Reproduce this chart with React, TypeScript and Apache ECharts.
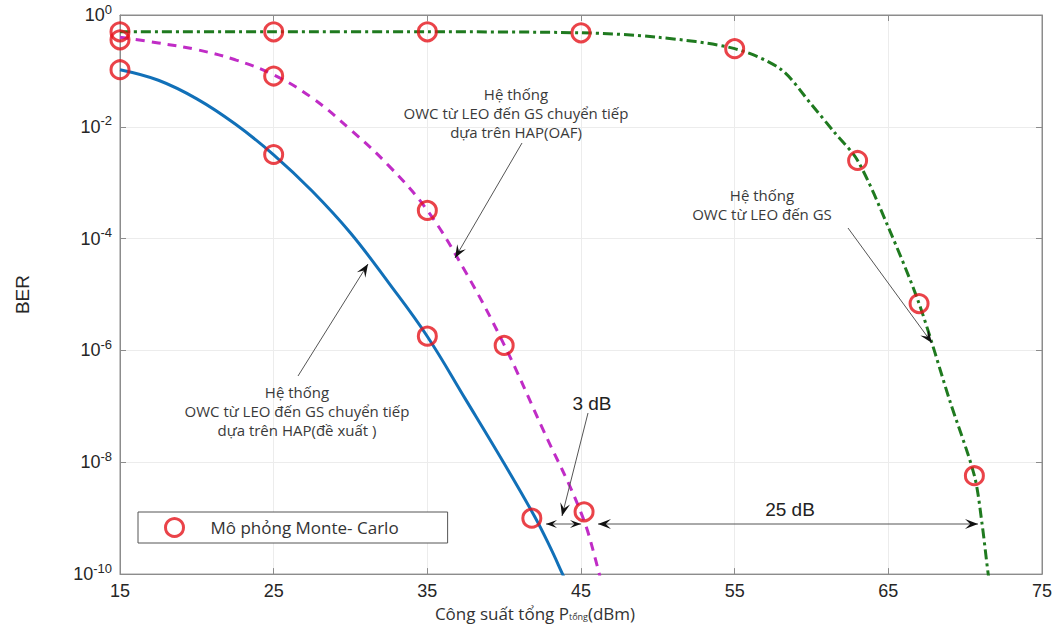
import React, { useEffect, useRef } from "react";
import * as echarts from "echarts";

// ---- Data ----
const powerProposed = [15, 17.5, 20, 22.5, 25, 27.5, 30, 32.5, 35, 37.5, 40, 42, 43, 43.8, 44.3];
const berProposed = [1.05e-1, 6.8e-2, 3.16e-2, 1.12e-2, 3.16e-3, 7.1e-4, 1.26e-4, 1.6e-5, 1.78e-6, 1.32e-7, 9.5e-9, 1.05e-9, 3e-10, 1e-10, 5e-11];

const powerOAF = [15, 17.5, 20, 22.5, 25, 27.5, 30, 32.5, 35, 37.5, 40, 42.5, 45, 46.1, 46.5];
const berOAF = [0.4, 0.316, 0.24, 0.158, 0.085, 0.033, 8.9e-3, 2e-3, 3.2e-4, 2.5e-5, 1.26e-6, 4e-8, 1.26e-9, 1.26e-10, 4e-11];

const powerDirect = [15, 25, 35, 45, 50, 55, 58, 60, 61.5, 63, 65, 67, 69, 70.6, 71.1, 71.5, 71.8];
const berDirect = [0.5, 0.5, 0.5, 0.48, 0.4, 0.25, 0.107, 0.025, 7.9e-3, 2.5e-3, 1.6e-4, 6.9e-6, 1.26e-7, 5.75e-9, 7.9e-10, 1e-10, 3e-11];

const powerSim = [15, 15, 15, 25, 25, 25, 35, 35, 35, 40, 41.8, 45, 45.2, 55, 63, 67, 70.6];
const berSim = [0.5, 0.36, 0.105, 0.5, 0.081, 3.2e-3, 0.5, 3.2e-4, 1.8e-6, 1.23e-6, 1e-9, 0.48, 1.3e-9, 0.25, 2.5e-3, 6.9e-6, 5.75e-9];

const xTickMin = 15;
const xTickMax = 75;
const xTickStep = 10;

const nameProposed = "Hệ thống OWC từ LEO đến GS chuyển tiếp dựa trên HAP(đề xuất )";
const nameOAF = "Hệ thống OWC từ LEO đến GS chuyển tiếp dựa trên HAP(OAF)";
const nameDirect = "Hệ thống OWC từ LEO đến GS";
const nameSim = "Mô phỏng Monte- Carlo";

const noteOAF = ["Hệ thống", "OWC từ LEO đến GS chuyển tiếp", "dựa trên HAP(OAF)"];
const noteDirect = ["Hệ thống", "OWC từ LEO đến GS"];
const noteProposed = ["Hệ thống", "OWC từ LEO đến GS chuyển tiếp", "dựa trên HAP(đề xuất )"];

const zip = (xs: number[], ys: number[]) => xs.map((x, i) => [x, ys[i]]);

function arrowHead(x1: number, y1: number, x2: number, y2: number, len = 13, half = 5) {
  const a = Math.atan2(y2 - y1, x2 - x1);
  const ux = Math.cos(a), uy = Math.sin(a);
  const nx = -uy, ny = ux;
  const bx = x2 - len * ux, by = y2 - len * uy;
  const mx = x2 - 0.6 * len * ux, my = y2 - 0.6 * len * uy;
  return {
    type: "polygon",
    silent: true,
    z: 100,
    shape: { points: [[x2, y2], [bx + half * nx, by + half * ny], [mx, my], [bx - half * nx, by - half * ny]] },
    style: { fill: "#111" },
  };
}

function arrow(x1: number, y1: number, x2: number, y2: number, both = false, len = 13, half = 5) {
  const els: any[] = [
    { type: "line", silent: true, z: 100, shape: { x1, y1, x2, y2 }, style: { stroke: "#555", lineWidth: 1 } },
    arrowHead(x1, y1, x2, y2, len, half),
  ];
  if (both) els.push(arrowHead(x2, y2, x1, y1, len, half));
  return els;
}

function label(text: string, x: number, y: number, size: number, family = "Open Sans", color = "#3a3a3a") {
  return {
    type: "text",
    silent: true,
    z: 100,
    x,
    y,
    style: {
      text,
      fill: color,
      font: `${size}px "${family}"`,
      fontSize: size,
      fontFamily: family,
      align: "center",
      textAlign: "center",
      verticalAlign: "middle",
      textVerticalAlign: "middle",
    },
  };
}

function note(lines: string[], x: number, yFirst: number, size: number, step: number) {
  return lines.map((t, i) => label(t, x, yFirst + i * step, size));
}

export default function App() {
  const ref = useRef<HTMLDivElement>(null);

  useEffect(() => {
    document.body.style.margin = "0";
    if (!ref.current) return;
    const chart = echarts.init(ref.current, null, { renderer: "svg" });

    const axisColor = "#8c8c8c";
    const gridColor = "#ececec";
    const labelColor = "#262626";

    const supFmt = (v: number) => {
      const e = Math.round(Math.log10(v));
      return `{b|10}{s|${e}}`;
    };

    const option: any = {
      animation: false,
      backgroundColor: "#ffffff",
      grid: { left: 120, right: 21, top: 15, bottom: 50, show: true, borderColor: axisColor, borderWidth: 1 },
      xAxis: [
        {
          type: "value",
          min: xTickMin,
          max: xTickMax,
          interval: xTickStep,
          axisLine: { show: true, onZero: false, lineStyle: { color: axisColor } },
          axisTick: { show: true, inside: true, length: 6, lineStyle: { color: axisColor } },
          axisLabel: { color: labelColor, fontSize: 18, fontFamily: "Liberation Sans", margin: 8 },
          splitLine: { show: true, lineStyle: { color: gridColor } },
          name: "Công suất tổng P{sub|tổng}(dBm)",
          nameLocation: "middle",
          nameGap: 28,
          nameTextStyle: {
            color: "#333",
            fontSize: 17,
            fontFamily: "Open Sans",
            padding: [0, 92, 0, 0],
            rich: { sub: { fontSize: 9, fontFamily: "Open Sans", color: "#333", padding: [6, 0, 0, 0] } },
          },
        },
        {
          type: "value",
          position: "top",
          min: xTickMin,
          max: xTickMax,
          interval: xTickStep,
          axisLine: { show: true, onZero: false, lineStyle: { color: axisColor } },
          axisTick: { show: true, inside: true, length: 6, lineStyle: { color: axisColor } },
          axisLabel: { show: false },
          splitLine: { show: false },
        },
      ],
      yAxis: [
        {
          type: "log",
          logBase: 10,
          min: 1e-10,
          max: 1,
          interval: 2,
          axisLine: { show: true, onZero: false, lineStyle: { color: axisColor } },
          axisTick: { show: true, inside: true, length: 6, lineStyle: { color: axisColor } },
          axisLabel: {
            color: labelColor,
            margin: 8,
            formatter: supFmt,
            rich: {
              b: { fontSize: 18, fontFamily: "Liberation Sans", color: labelColor },
              s: { fontSize: 13, fontFamily: "Liberation Sans", color: labelColor, padding: [0, 0, 12, 0] },
            },
          },
          splitLine: { show: true, lineStyle: { color: gridColor } },
          minorTick: { show: false },
          name: "BER",
          nameLocation: "middle",
          nameGap: 88,
          nameRotate: 90,
          nameTextStyle: { color: labelColor, fontSize: 19, fontFamily: "Liberation Sans" },
        },
        {
          type: "log",
          logBase: 10,
          position: "right",
          min: 1e-10,
          max: 1,
          interval: 2,
          axisLine: { show: true, onZero: false, lineStyle: { color: axisColor } },
          axisTick: { show: true, inside: true, length: 6, lineStyle: { color: axisColor } },
          axisLabel: { show: false },
          splitLine: { show: false },
        },
      ],
      legend: {
        data: [{ name: nameSim }],
        left: 138,
        top: 512,
        orient: "horizontal",
        padding: [5, 49, 5, 26],
        itemWidth: 20,
        itemHeight: 18,
        borderColor: "#555",
        borderWidth: 1,
        borderRadius: 0,
        backgroundColor: "#fff",
        itemStyle: { borderWidth: 3, borderColor: "#e5141c", color: "rgba(255,255,255,0)" },
        textStyle: { fontSize: 17, fontFamily: "Open Sans", color: "#333", padding: [0, 0, 0, 21] },
      },
      series: [
        {
          name: nameProposed,
          type: "line",
          data: zip(powerProposed, berProposed),
          smooth: 0.4,
          showSymbol: false,
          clip: true,
          lineStyle: { color: "#1170b8", width: 3 },
          itemStyle: { color: "#1170b8" },
          z: 3,
        },
        {
          name: nameOAF,
          type: "line",
          data: zip(powerOAF, berOAF),
          smooth: 0.4,
          showSymbol: false,
          clip: true,
          lineStyle: { color: "#c02cc6", width: 3, type: [9, 7] },
          itemStyle: { color: "#c02cc6" },
          z: 3,
        },
        {
          name: nameDirect,
          type: "line",
          data: zip(powerDirect, berDirect),
          smooth: 0.3,
          showSymbol: false,
          clip: true,
          lineStyle: { color: "#1f7a1f", width: 3, type: [10, 4, 3, 4] },
          itemStyle: { color: "#1f7a1f" },
          z: 3,
        },
        {
          name: nameSim,
          type: "scatter",
          data: zip(powerSim, berSim),
          symbol: "circle",
          symbolSize: 18,
          clip: false,
          itemStyle: { color: "rgba(255,255,255,0)", borderColor: "#e5141c", borderWidth: 3 },
          z: 5,
        },
      ],
      graphic: [
        ...note(noteOAF, 516, 94, 15, 19),
        ...note(noteDirect, 762, 195, 15, 19),
        ...note(noteProposed, 297, 392, 15, 19),
        label("3 dB", 592, 403, 19, "Liberation Sans", "#222"),
        label("25 dB", 790, 509, 19, "Liberation Sans", "#222"),
        ...arrow(522, 143, 455, 258),
        ...arrow(848, 228, 932, 343),
        ...arrow(298, 376, 368, 264),
        ...arrow(588, 413, 562, 516),
        ...arrow(598, 524, 978, 524, true),
        ...arrow(546, 524, 581, 524, true, 11, 4),
      ],
    };

    chart.setOption(option);
    return () => chart.dispose();
  }, []);

  return <div ref={ref} style={{ width: 1063, height: 627 }} />;
}
